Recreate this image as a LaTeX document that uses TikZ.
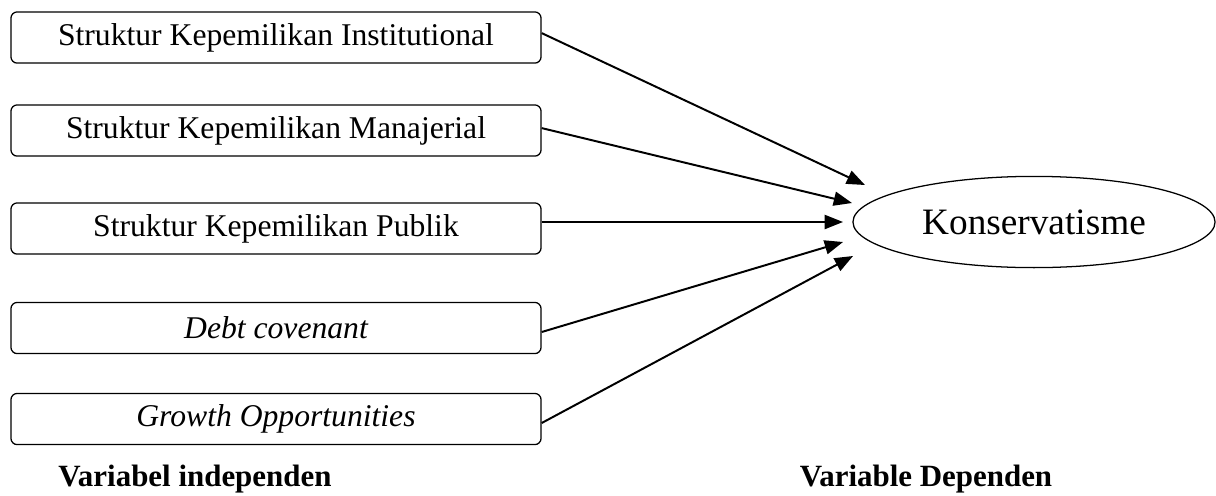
\documentclass[tikz,border=0pt]{standalone}
\usepackage{fontspec}
\setmainfont{Liberation Serif}
\usetikzlibrary{arrows.meta,shapes.geometric}
\tikzset{
  varbox/.style={draw,line width=0.9pt,rounded corners=4.5pt,minimum width=13.25cm,minimum height=1.28cm,inner sep=0pt,font=\fontsize{22.5}{27}\selectfont},
  arr/.style={line width=1.4pt,-{Triangle[length=13pt,width=10pt]}},
  lbl/.style={font=\fontsize{22}{26}\selectfont\bfseries,anchor=base,inner sep=0pt}
}
\begin{document}
\begin{tikzpicture}[x=0.025cm,y=-0.025cm]
 \useasboundingbox (0,0) rectangle (1216,495);
 % variabel independen
 \node[varbox] (inst) at (276,37.5) {Struktur Kepemilikan Institutional};
 \node[varbox] (manj) at (276,130.5) {Struktur Kepemilikan Manajerial};
 \node[varbox] (publ) at (276,228.5) {Struktur Kepemilikan Publik};
 \node[varbox] (debt) at (276,328) {\itshape Debt covenant};
 \node[varbox] (grow) at (276,419) {\itshape Growth Opportunities};
 % variabel dependen
 \node[draw,ellipse,line width=0.9pt,minimum width=9.05cm,minimum height=2.28cm,inner sep=0pt,font=\fontsize{26.5}{30}\selectfont] (kons) at (1034,222) {Konservatisme};
 % ujung panah
 \coordinate (t1) at (865,185);
 \coordinate (t2) at (852,203);
 \coordinate (t3) at (843,222);
 \coordinate (t4) at (843,242);
 \coordinate (t5) at (853,256);
 \draw[arr] ([yshift=0.11cm]inst.east) -- (t1);
 \draw[arr] ([yshift=0.06cm]manj.east) -- (t2);
 \draw[arr] (publ.east |- t3) -- (t3);
 \draw[arr] ([yshift=-0.1cm]debt.east) -- (t4);
 \draw[arr] ([yshift=-0.1cm]grow.east) -- (t5);
 % keterangan
 \node[lbl] (indep) at (195,486) {Variabel independen};
 \node[lbl] (dep) at (926,486) {Variable Dependen};
\end{tikzpicture}
\end{document}
